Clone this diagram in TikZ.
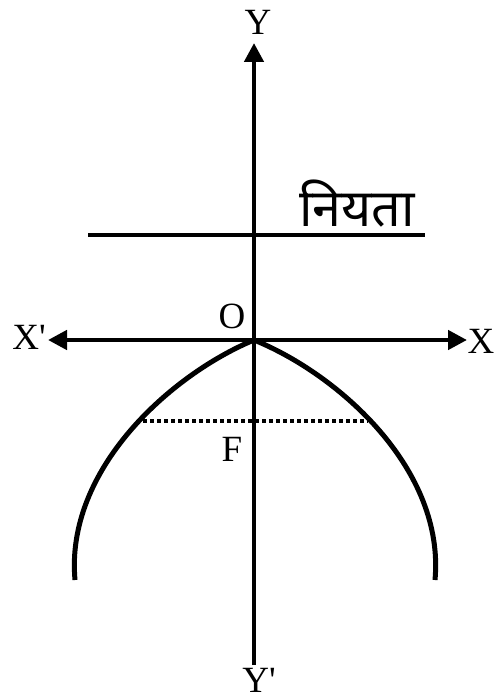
\documentclass[tikz,border=0pt]{standalone}
\usepackage{fontspec}
\setmainfont{Liberation Serif}
\newfontfamily\hindifont[Script=Devanagari]{Noto Sans}
\usetikzlibrary{arrows.meta}

\begin{document}
\begin{tikzpicture}[x=1pt, y=-1pt,
  >={Triangle[length=19pt, width=19pt]},
  axis/.style={line width=4.5pt},
  curve/.style={line width=5pt},
  latus/.style={line width=4pt, dash pattern=on 4pt off 3pt},
  lbl/.style={font=\fontsize{37}{40}\selectfont, inner sep=0pt}
]
\useasboundingbox (0,0) rectangle (494,700);

% Axes
\coordinate (xl) at (48,340);
\coordinate (xr) at (467,340);
\coordinate (yt) at (254,43);
\coordinate (yb) at (254,665);
\coordinate (o) at (254,340);
\draw[axis, <->] (xl) -- (xr);
\draw[axis, ->] (yb) -- (yt);

\node[lbl] (lx) at (481,341) {X};
\node[lbl] (lxp) at (29,337) {X\textquotesingle};
\node[lbl] (ly) at (258,22) {Y};
\node[lbl] (lyp) at (259,680) {Y\textquotesingle};
\node[lbl] (lo) at (232,316) {O};

% Directrix
\coordinate (dl) at (88,235);
\coordinate (dr) at (425,235);
\draw[axis] (dl) -- (dr);
\node[font=\hindifont\fontsize{52}{56}\selectfont, inner sep=0pt] (dir) at (357,204) {नियता};

% Parabola
\coordinate (pl) at (75,580);
\coordinate (pr) at (435,580);
\draw[curve] (pl) .. controls (65,470) and (170,375) .. (o)
  .. controls (340,375) and (445,470) .. (pr);

% Latus rectum through F
\coordinate (fl) at (143,421);
\coordinate (fr) at (368,421);
\draw[latus] (fl) -- (fr);
\node[lbl] (lf) at (232,449) {F};

\end{tikzpicture}
\end{document}
